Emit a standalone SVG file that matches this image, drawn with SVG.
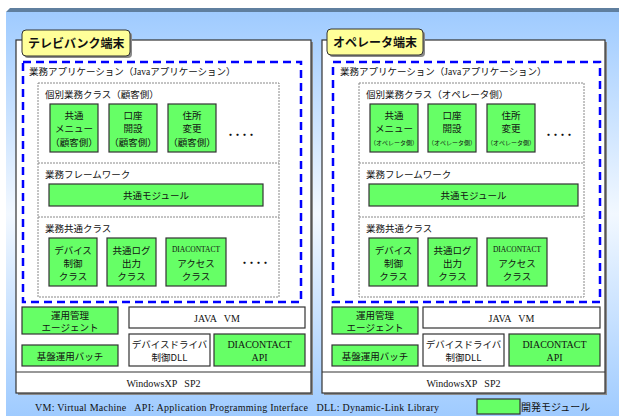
<svg xmlns="http://www.w3.org/2000/svg" width="619" height="416" viewBox="0 0 619 416">
<defs>
<linearGradient id="bg" x1="0" y1="0" x2="0" y2="1">
<stop offset="0" stop-color="#9FCBFF"/>
<stop offset="0.5" stop-color="#F2F8FF"/>
<stop offset="1" stop-color="#9FCBFF"/>
</linearGradient>
<style>
text{font-family:"Noto Sans CJK JP","Noto Sans",sans-serif;fill:#111;}
.jp{font-size:9.5px;}
.c{text-anchor:middle;}
.g{font-size:9.5px;}
.s{font-family:"Liberation Serif",serif;white-space:pre;}
.tab{font-size:12px;font-weight:bold;}
.outer{fill:#fff;stroke:#333;stroke-width:1.2;}
.shadow{fill:#8a8a8a;}
.tabr{fill:#FFFF99;stroke:#333;stroke-width:1;}
.dash{fill:none;stroke:#0000FF;stroke-width:2.5;stroke-dasharray:8 5;}
.dot{fill:none;stroke:#888;stroke-width:1;stroke-dasharray:2 1;}
.grn{fill:#66FF66;stroke:#333;stroke-width:1.2;}
.wht{fill:#fff;stroke:#333;stroke-width:1.2;}
.small{font-size:6px;}
.dots{font-size:9px;font-weight:bold;letter-spacing:-2px;}
</style>
</defs>
<g id="background">
<rect x="6" y="12" width="613" height="404" fill="url(#bg)"/>
<path d="M10 8 L619 8 L619 12 L6 12 Z" fill="#5F7F9F"/>
</g>

<g id="terminal-left">
<rect class="shadow" x="18" y="42" width="295" height="353"/>
<rect class="outer" x="16" y="40" width="295" height="353"/>
<line x1="16" y1="372" x2="311" y2="372" stroke="#333" stroke-width="1.2"/>
<rect class="shadow" x="24" y="32" width="108" height="26" rx="4"/>
<rect class="tabr" x="22" y="30" width="108" height="26" rx="4"/>
<text class="tab" x="28" y="48">テレビバンク端末</text>
</g>
<g id="app-left">
<rect class="dash" x="23" y="62" width="278" height="240"/>
<text class="jp" x="29" y="75">業務アプリケーション（<tspan class="s">Java</tspan>アプリケーション）</text>
<rect class="dot" x="38" y="83" width="241" height="214"/>
<line class="dot" x1="38" y1="163" x2="279" y2="163"/>
<line class="dot" x1="38" y1="217" x2="279" y2="217"/>
<text class="jp" x="45" y="98">個別業務クラス（顧客側）</text>
<text class="jp" x="45" y="177.5">業務フレームワーク</text>
<text class="jp" x="45" y="231.5">業務共通クラス</text>
<text class="dots" x="226" y="138">・・・・</text>
<text class="dots" x="240" y="266">・・・・</text>
</g>
<g id="menu-left">
<rect class="grn" x="50" y="104" width="48" height="48"/>
<text class="g c" x="74" y="119">共通</text><text class="g c" x="74" y="132">メニュー</text><text class="g c" x="74" y="145.5" font-size="9">（顧客側）</text>
</g>
<g id="account-left">
<rect class="grn" x="109" y="104" width="48" height="48"/>
<text class="g c" x="133" y="119">口座</text><text class="g c" x="133" y="132">開設</text><text class="g c" x="133" y="145.5">（顧客側）</text>
</g>
<g id="address-left">
<rect class="grn" x="168" y="104" width="48" height="48"/>
<text class="g c" x="192" y="119">住所</text><text class="g c" x="192" y="132">変更</text><text class="g c" x="192" y="145.5">（顧客側）</text>
</g>
<g id="common-module-left">
<rect class="grn" x="49" y="184" width="214" height="22"/>
<text class="g c" x="156" y="199">共通モジュール</text>
</g>
<g id="device-left">
<rect class="grn" x="49" y="238" width="48" height="48"/>
<text class="g c" x="73" y="254">デバイス</text><text class="g c" x="73" y="267">制御</text><text class="g c" x="73" y="280">クラス</text>
</g>
<g id="log-left">
<rect class="grn" x="107" y="238" width="49" height="48"/>
<text class="g c" x="131.5" y="254">共通ログ</text><text class="g c" x="131.5" y="267">出力</text><text class="g c" x="131.5" y="280">クラス</text>
</g>
<g id="diac-left">
<rect class="grn" x="166" y="238" width="60" height="48"/>
<text class="s c" x="196" y="252" font-size="7.5">DIACONTACT</text><text class="g c" x="196" y="267">アクセス</text><text class="g c" x="196" y="280">クラス</text>
</g>
<g id="agent-left">
<rect class="grn" x="22" y="307" width="96" height="27"/>
<text class="g c" x="70" y="318.5">運用管理</text><text class="g c" x="70" y="331">エージェント</text>
</g>
<g id="batch-left">
<rect class="grn" x="22" y="345" width="96" height="21"/>
<text class="g c" x="70" y="359.5">基盤運用バッチ</text>
</g>
<g id="jvm-left">
<rect class="wht" x="129" y="307" width="176" height="21"/>
<text class="s c" x="217" y="322" font-size="10" xml:space="preserve">JAVA   VM</text>
</g>
<g id="dll-left">
<rect class="wht" x="129" y="334" width="81" height="32"/>
<text class="g c" x="169.5" y="348">デバイスドライバ</text><text class="g c" x="169.5" y="361">制御DLL</text>
</g>
<g id="api-left">
<rect class="grn" x="214" y="334" width="91" height="32"/>
<text class="s c" x="259.5" y="347.5" font-size="10">DIACONTACT</text><text class="s c" x="259.5" y="361" font-size="10">API</text>
</g>
<g id="os-left">
<text class="s c" x="163.5" y="387" font-size="10" xml:space="preserve">WindowsXP   SP2</text>
</g>

<g id="terminal-right">
<rect class="shadow" x="324" y="42" width="283" height="353"/>
<rect class="outer" x="322" y="40" width="283" height="353"/>
<line x1="322" y1="372" x2="605" y2="372" stroke="#333" stroke-width="1.2"/>
<rect class="shadow" x="329" y="31" width="96" height="26" rx="4"/>
<rect class="tabr" x="327" y="29" width="96" height="26" rx="4"/>
<text class="tab" x="333" y="47">オペレータ端末</text>
</g>
<g id="app-right">
<rect class="dash" x="333" y="62" width="267" height="240"/>
<text class="jp" x="340" y="75">業務アプリケーション（<tspan class="s">Java</tspan>アプリケーション）</text>
<rect class="dot" x="359" y="83" width="225" height="214"/>
<line class="dot" x1="359" y1="163" x2="584" y2="163"/>
<line class="dot" x1="359" y1="217" x2="584" y2="217"/>
<text class="jp" x="366" y="98">個別業務クラス（オペレータ側）</text>
<text class="jp" x="366" y="177.5">業務フレームワーク</text>
<text class="jp" x="366" y="231.5">業務共通クラス</text>
<text class="dots" x="544" y="138">・・・・</text>
</g>
<g id="menu-right">
<rect class="grn" x="370" y="104" width="48" height="48"/>
<text class="g c" x="394" y="119">共通</text><text class="g c" x="394" y="132">メニュー</text><text class="small c" x="394" y="145">（オペレータ側）</text>
</g>
<g id="account-right">
<rect class="grn" x="428" y="104" width="48" height="48"/>
<text class="g c" x="452" y="119">口座</text><text class="g c" x="452" y="132">開設</text><text class="small c" x="452" y="145">（オペレータ側）</text>
</g>
<g id="address-right">
<rect class="grn" x="487" y="104" width="48" height="48"/>
<text class="g c" x="511" y="119">住所</text><text class="g c" x="511" y="132">変更</text><text class="small c" x="511" y="145">（オペレータ側）</text>
</g>
<g id="common-module-right">
<rect class="grn" x="369" y="184" width="209" height="22"/>
<text class="g c" x="473.5" y="199">共通モジュール</text>
</g>
<g id="device-right">
<rect class="grn" x="369" y="238" width="49" height="48"/>
<text class="g c" x="393.5" y="254">デバイス</text><text class="g c" x="393.5" y="267">制御</text><text class="g c" x="393.5" y="280">クラス</text>
</g>
<g id="log-right">
<rect class="grn" x="428" y="238" width="49" height="48"/>
<text class="g c" x="452.5" y="254">共通ログ</text><text class="g c" x="452.5" y="267">出力</text><text class="g c" x="452.5" y="280">クラス</text>
</g>
<g id="diac-right">
<rect class="grn" x="487" y="238" width="60" height="48"/>
<text class="s c" x="517" y="252" font-size="7.5">DIACONTACT</text><text class="g c" x="517" y="267">アクセス</text><text class="g c" x="517" y="280">クラス</text>
</g>
<g id="agent-right">
<rect class="grn" x="332" y="307" width="86" height="27"/>
<text class="g c" x="375" y="318.5">運用管理</text><text class="g c" x="375" y="331">エージェント</text>
</g>
<g id="batch-right">
<rect class="grn" x="332" y="345" width="86" height="21"/>
<text class="g c" x="375" y="359.5">基盤運用バッチ</text>
</g>
<g id="jvm-right">
<rect class="wht" x="423" y="307" width="177" height="21"/>
<text class="s c" x="511.5" y="322" font-size="10" xml:space="preserve">JAVA   VM</text>
</g>
<g id="dll-right">
<rect class="wht" x="423" y="334" width="81" height="32"/>
<text class="g c" x="463.5" y="348">デバイスドライバ</text><text class="g c" x="463.5" y="361">制御DLL</text>
</g>
<g id="api-right">
<rect class="grn" x="509" y="334" width="91" height="32"/>
<text class="s c" x="554.5" y="347.5" font-size="10">DIACONTACT</text><text class="s c" x="554.5" y="361" font-size="10">API</text>
</g>
<g id="os-right">
<text class="s c" x="463.5" y="387" font-size="10" xml:space="preserve">WindowsXP   SP2</text>
</g>

<g id="connectors"></g>

<g id="footer">
<text class="s" x="35" y="411" font-size="10" textLength="404" xml:space="preserve">VM: Virtual Machine   API: Application Programming Interface   DLL: Dynamic-Link Library</text>
</g>
<g id="legend">
<rect class="grn" x="477" y="399" width="43" height="15"/>
<text x="521" y="411" font-size="10">開発モジュール</text>
</g>
</svg>
